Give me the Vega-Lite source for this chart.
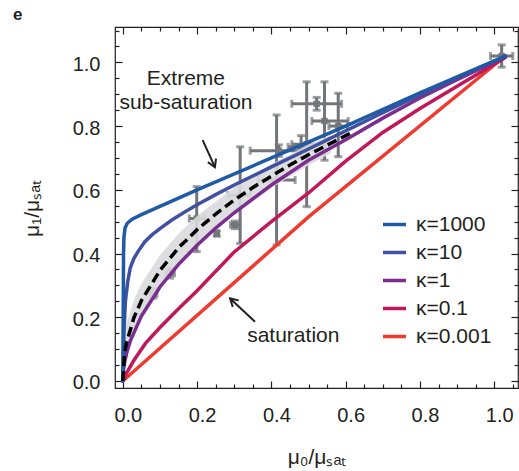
{
  "$schema": "https://vega.github.io/schema/vega-lite/v6.json",
  "width": 403,
  "height": 361,
  "autosize": {"type": "none"},
  "padding": {"left": 115, "top": 27, "right": 1, "bottom": 83},
  "background": "white",
  "config": {
    "view": {"stroke": "#231f20", "strokeWidth": 1.2},
    "font": "Liberation Sans",
    "axis": {"grid": false, "domain": false, "tickColor": "#231f20", "tickWidth": 1.2, "labelFont": "Liberation Sans", "labelColor": "#231f20", "titleFont": "Liberation Sans", "titleColor": "#231f20", "titleFontWeight": "normal"}
  },
  "title": {"text": "e", "anchor": "start", "frame": "group", "fontSize": 17, "fontWeight": "bold", "dx": -102, "dy": 16, "offset": 5, "baseline": "alphabetic", "color": "#231f20", "font": "Liberation Sans"},
  "datasets": {
    "pts": [
      {"x": 0.082, "y": 0.275, "xlo": 0.072, "xhi": 0.092, "ylo": 0.26, "yhi": 0.29},
      {"x": 0.127, "y": 0.338, "xlo": 0.115, "xhi": 0.139, "ylo": 0.323, "yhi": 0.353},
      {"x": 0.199, "y": 0.51, "xlo": 0.179, "xhi": 0.221, "ylo": 0.406, "yhi": 0.61},
      {"x": 0.253, "y": 0.463, "xlo": 0.248, "xhi": 0.258, "ylo": 0.455, "yhi": 0.471},
      {"x": 0.302, "y": 0.49, "xlo": 0.29, "xhi": 0.315, "ylo": 0.478, "yhi": 0.502},
      {"x": 0.316, "y": 0.583, "xlo": 0.283, "xhi": 0.343, "ylo": 0.432, "yhi": 0.735},
      {"x": 0.414, "y": 0.631, "xlo": 0.364, "xhi": 0.464, "ylo": 0.427, "yhi": 0.835},
      {"x": 0.42, "y": 0.723, "xlo": 0.343, "xhi": 0.495, "ylo": 0.705, "yhi": 0.741},
      {"x": 0.48, "y": 0.735, "xlo": 0.445, "xhi": 0.513, "ylo": 0.7, "yhi": 0.77},
      {"x": 0.495, "y": 0.743, "xlo": 0.455, "xhi": 0.54, "ylo": 0.547, "yhi": 0.939},
      {"x": 0.543, "y": 0.816, "xlo": 0.509, "xhi": 0.607, "ylo": 0.693, "yhi": 0.939},
      {"x": 0.58, "y": 0.8, "xlo": 0.555, "xhi": 0.605, "ylo": 0.704, "yhi": 0.903},
      {"x": 0.522, "y": 0.87, "xlo": 0.455, "xhi": 0.589, "ylo": 0.85, "yhi": 0.89},
      {"x": 1.02, "y": 1.02, "xlo": 0.99, "xhi": 1.05, "ylo": 0.985, "yhi": 1.055}
    ],
    "band": [
      {"x": 0, "lo": 0, "hi": 0},
      {"x": 0.005, "lo": 0.04, "hi": 0.15},
      {"x": 0.01, "lo": 0.07, "hi": 0.18},
      {"x": 0.03, "lo": 0.15, "hi": 0.255},
      {"x": 0.05, "lo": 0.205, "hi": 0.305},
      {"x": 0.1, "lo": 0.3, "hi": 0.395},
      {"x": 0.15, "lo": 0.372, "hi": 0.462},
      {"x": 0.2, "lo": 0.43, "hi": 0.518},
      {"x": 0.3, "lo": 0.527, "hi": 0.608},
      {"x": 0.4, "lo": 0.606, "hi": 0.68},
      {"x": 0.5, "lo": 0.677, "hi": 0.742},
      {"x": 0.56, "lo": 0.715, "hi": 0.772}
    ],
    "dashed": [
      {"x": 0, "y": 0}, {"x": 0.005, "y": 0.09}, {"x": 0.01, "y": 0.12}, {"x": 0.03, "y": 0.199},
      {"x": 0.05, "y": 0.252}, {"x": 0.1, "y": 0.347}, {"x": 0.15, "y": 0.418}, {"x": 0.2, "y": 0.475},
      {"x": 0.25, "y": 0.524}, {"x": 0.3, "y": 0.568}, {"x": 0.35, "y": 0.607}, {"x": 0.4, "y": 0.643},
      {"x": 0.45, "y": 0.678}, {"x": 0.5, "y": 0.71}, {"x": 0.55, "y": 0.74}, {"x": 0.6, "y": 0.77}, {"x": 0.62, "y": 0.782}
    ],
    "curves": [
      {"k": "κ=0.001", "x": 0, "y": 0}, {"k": "κ=0.001", "x": 0.5, "y": 0.515}, {"k": "κ=0.001", "x": 1.03, "y": 1.02},
      {"k": "κ=0.1", "x": 0, "y": 0}, {"k": "κ=0.1", "x": 0.01, "y": 0.025}, {"k": "κ=0.1", "x": 0.03, "y": 0.065},
      {"k": "κ=0.1", "x": 0.061, "y": 0.118}, {"k": "κ=0.1", "x": 0.1, "y": 0.168}, {"k": "κ=0.1", "x": 0.15, "y": 0.227},
      {"k": "κ=0.1", "x": 0.2, "y": 0.283}, {"k": "κ=0.1", "x": 0.3, "y": 0.405}, {"k": "κ=0.1", "x": 0.4, "y": 0.5},
      {"k": "κ=0.1", "x": 0.5, "y": 0.59}, {"k": "κ=0.1", "x": 0.6, "y": 0.69}, {"k": "κ=0.1", "x": 0.7, "y": 0.78},
      {"k": "κ=0.1", "x": 0.8, "y": 0.855}, {"k": "κ=0.1", "x": 0.9, "y": 0.925}, {"k": "κ=0.1", "x": 1.03, "y": 1.015},
      {"k": "κ=1", "x": 0, "y": 0}, {"k": "κ=1", "x": 0.002, "y": 0.037}, {"k": "κ=1", "x": 0.005, "y": 0.06},
      {"k": "κ=1", "x": 0.012, "y": 0.095}, {"k": "κ=1", "x": 0.02, "y": 0.125}, {"k": "κ=1", "x": 0.05, "y": 0.204},
      {"k": "κ=1", "x": 0.1, "y": 0.295}, {"k": "κ=1", "x": 0.15, "y": 0.366}, {"k": "κ=1", "x": 0.2, "y": 0.426},
      {"k": "κ=1", "x": 0.25, "y": 0.48}, {"k": "κ=1", "x": 0.3, "y": 0.528}, {"k": "κ=1", "x": 0.4, "y": 0.615},
      {"k": "κ=1", "x": 0.5, "y": 0.693}, {"k": "κ=1", "x": 0.6, "y": 0.757}, {"k": "κ=1", "x": 0.7, "y": 0.825},
      {"k": "κ=1", "x": 0.8, "y": 0.888}, {"k": "κ=1", "x": 0.9, "y": 0.946}, {"k": "κ=1", "x": 1.03, "y": 1.018},
      {"k": "κ=10", "x": 0, "y": 0}, {"k": "κ=10", "x": 0.001, "y": 0.05}, {"k": "κ=10", "x": 0.003, "y": 0.15},
      {"k": "κ=10", "x": 0.007, "y": 0.25}, {"k": "κ=10", "x": 0.013, "y": 0.31}, {"k": "κ=10", "x": 0.02, "y": 0.355},
      {"k": "κ=10", "x": 0.03, "y": 0.385}, {"k": "κ=10", "x": 0.043, "y": 0.41}, {"k": "κ=10", "x": 0.06, "y": 0.438},
      {"k": "κ=10", "x": 0.08, "y": 0.46}, {"k": "κ=10", "x": 0.1, "y": 0.478}, {"k": "κ=10", "x": 0.133, "y": 0.506},
      {"k": "κ=10", "x": 0.17, "y": 0.533}, {"k": "κ=10", "x": 0.2, "y": 0.553}, {"k": "κ=10", "x": 0.25, "y": 0.585},
      {"k": "κ=10", "x": 0.3, "y": 0.615}, {"k": "κ=10", "x": 0.4, "y": 0.672}, {"k": "κ=10", "x": 0.5, "y": 0.728},
      {"k": "κ=10", "x": 0.6, "y": 0.785}, {"k": "κ=10", "x": 0.7, "y": 0.842}, {"k": "κ=10", "x": 0.8, "y": 0.898},
      {"k": "κ=10", "x": 0.9, "y": 0.952}, {"k": "κ=10", "x": 1.03, "y": 1.019},
      {"k": "κ=1000", "x": 0, "y": 0}, {"k": "κ=1000", "x": 0.001, "y": 0.2}, {"k": "κ=1000", "x": 0.002, "y": 0.4},
      {"k": "κ=1000", "x": 0.003, "y": 0.45}, {"k": "κ=1000", "x": 0.006, "y": 0.48}, {"k": "κ=1000", "x": 0.012, "y": 0.495},
      {"k": "κ=1000", "x": 0.025, "y": 0.508}, {"k": "κ=1000", "x": 0.05, "y": 0.522}, {"k": "κ=1000", "x": 0.1, "y": 0.548},
      {"k": "κ=1000", "x": 0.2, "y": 0.6}, {"k": "κ=1000", "x": 0.4, "y": 0.7}, {"k": "κ=1000", "x": 0.6, "y": 0.8},
      {"k": "κ=1000", "x": 0.8, "y": 0.904}, {"k": "κ=1000", "x": 1.03, "y": 1.02}
    ],
    "arrows": [
      {"a": "a1", "o": 0, "x": 0.215, "y": 0.756}, {"a": "a1", "o": 1, "x": 0.248, "y": 0.671},
      {"a": "h1", "o": 0, "x": 0.251, "y": 0.698}, {"a": "h1", "o": 1, "x": 0.248, "y": 0.671}, {"a": "h1", "o": 2, "x": 0.229, "y": 0.687},
      {"a": "a2", "o": 0, "x": 0.356, "y": 0.186}, {"a": "a2", "o": 1, "x": 0.289, "y": 0.259},
      {"a": "h2", "o": 0, "x": 0.296, "y": 0.2325}, {"a": "h2", "o": 1, "x": 0.289, "y": 0.259}, {"a": "h2", "o": 2, "x": 0.312, "y": 0.253}
    ],
    "notes": [
      {"t": "Extreme", "x": 0.17, "y": 0.929},
      {"t": "sub-saturation", "x": 0.17, "y": 0.855},
      {"t": "saturation", "x": 0.459, "y": 0.123}
    ]
  },
  "resolve": {"axis": {"x": "independent", "y": "independent"}},
  "layer": [
    {
      "data": {"name": "pts"},
      "mark": {"type": "rule", "color": "#727579", "strokeWidth": 3},
      "encoding": {
        "x": {"field": "x", "type": "quantitative", "scale": {"domain": [-0.021, 1.064], "nice": false, "zero": false},
          "axis": {"orient": "bottom", "values": [0, 0.2, 0.4, 0.6, 0.8, 1.0], "format": ".1f", "tickSize": -7, "labelPadding": 24, "labelFontSize": 20, "labelOffset": 5, "title": "μ₀/μₛₐₜ", "titleFontSize": 21, "titlePadding": 21}},
        "y": {"field": "ylo", "type": "quantitative", "scale": {"domain": [-0.022, 1.111], "nice": false, "zero": false},
          "axis": {"orient": "left", "values": [0, 0.2, 0.4, 0.6, 0.8, 1.0], "format": ".1f", "tickSize": -7, "labelPadding": 22, "labelFontSize": 20, "labelOffset": 2, "title": "μ₁/μₛₐₜ", "titleFontSize": 21, "titleX": -83, "titleY": 181, "titleAngle": -90, "titleAlign": "center", "titleBaseline": "middle"}},
        "y2": {"field": "yhi"}
      }
    },
    {
      "data": {"name": "pts"},
      "mark": {"type": "rule", "color": "#727579", "strokeWidth": 3},
      "encoding": {
        "x": {"field": "xlo", "type": "quantitative", "scale": {"domain": [-0.021, 1.064], "nice": false, "zero": false},
          "axis": {"orient": "bottom", "values": [0.05, 0.1, 0.15, 0.25, 0.3, 0.35, 0.45, 0.5, 0.55, 0.65, 0.7, 0.75, 0.85, 0.9, 0.95, 1.05], "tickSize": -4, "labels": false, "title": null}},
        "x2": {"field": "xhi"},
        "y": {"field": "y", "type": "quantitative", "scale": {"domain": [-0.022, 1.111], "nice": false, "zero": false},
          "axis": {"orient": "left", "values": [0.05, 0.1, 0.15, 0.25, 0.3, 0.35, 0.45, 0.5, 0.55, 0.65, 0.7, 0.75, 0.85, 0.9, 0.95, 1.05, 1.1], "tickSize": -4, "labels": false, "title": null}}
      }
    },
    {
      "data": {"name": "pts"},
      "mark": {"type": "tick", "orient": "horizontal", "color": "#727579", "size": 8, "thickness": 3},
      "encoding": {
        "x": {"field": "x", "type": "quantitative", "scale": {"domain": [-0.021, 1.064], "nice": false, "zero": false},
          "axis": {"orient": "top", "values": [0, 0.2, 0.4, 0.6, 0.8, 1.0], "tickSize": -7, "labels": false, "title": null}},
        "y": {"field": "ylo", "type": "quantitative", "scale": {"domain": [-0.022, 1.111], "nice": false, "zero": false},
          "axis": {"orient": "right", "values": [0, 0.2, 0.4, 0.6, 0.8, 1.0], "tickSize": -7, "labels": false, "title": null}}
      }
    },
    {
      "data": {"name": "pts"},
      "mark": {"type": "tick", "orient": "horizontal", "color": "#727579", "size": 8, "thickness": 3},
      "encoding": {
        "x": {"field": "x", "type": "quantitative", "scale": {"domain": [-0.021, 1.064], "nice": false, "zero": false},
          "axis": {"orient": "top", "values": [0.05, 0.1, 0.15, 0.25, 0.3, 0.35, 0.45, 0.5, 0.55, 0.65, 0.7, 0.75, 0.85, 0.9, 0.95, 1.05], "tickSize": -4, "labels": false, "title": null}},
        "y": {"field": "yhi", "type": "quantitative", "scale": {"domain": [-0.022, 1.111], "nice": false, "zero": false},
          "axis": {"orient": "right", "values": [0.05, 0.1, 0.15, 0.25, 0.3, 0.35, 0.45, 0.5, 0.55, 0.65, 0.7, 0.75, 0.85, 0.9, 0.95, 1.05, 1.1], "tickSize": -4, "labels": false, "title": null}}
      }
    },
    {
      "data": {"name": "pts"},
      "mark": {"type": "tick", "orient": "vertical", "color": "#727579", "size": 8, "thickness": 3},
      "encoding": {
        "x": {"field": "xlo", "type": "quantitative", "scale": {"domain": [-0.021, 1.064], "nice": false, "zero": false}, "axis": null},
        "y": {"field": "y", "type": "quantitative", "scale": {"domain": [-0.022, 1.111], "nice": false, "zero": false}, "axis": null}
      }
    },
    {
      "data": {"name": "pts"},
      "mark": {"type": "tick", "orient": "vertical", "color": "#727579", "size": 8, "thickness": 3},
      "encoding": {
        "x": {"field": "xhi", "type": "quantitative", "scale": {"domain": [-0.021, 1.064], "nice": false, "zero": false}, "axis": null},
        "y": {"field": "y", "type": "quantitative", "scale": {"domain": [-0.022, 1.111], "nice": false, "zero": false}, "axis": null}
      }
    },
    {
      "data": {"name": "pts"},
      "mark": {"type": "square", "color": "#727579", "size": 40, "opacity": 1},
      "encoding": {
        "x": {"field": "x", "type": "quantitative", "scale": {"domain": [-0.021, 1.064], "nice": false, "zero": false}, "axis": null},
        "y": {"field": "y", "type": "quantitative", "scale": {"domain": [-0.022, 1.111], "nice": false, "zero": false}, "axis": null}
      }
    },
    {
      "data": {"name": "band"},
      "mark": {"type": "area", "color": "#d9dadb", "opacity": 0.9},
      "encoding": {
        "x": {"field": "x", "type": "quantitative", "scale": {"domain": [-0.021, 1.064], "nice": false, "zero": false}, "axis": null},
        "y": {"field": "lo", "type": "quantitative", "scale": {"domain": [-0.022, 1.111], "nice": false, "zero": false}, "axis": null},
        "y2": {"field": "hi"}
      }
    },
    {
      "data": {"name": "curves"},
      "mark": {"type": "line", "strokeWidth": 3.5, "strokeCap": "round"},
      "encoding": {
        "x": {"field": "x", "type": "quantitative", "scale": {"domain": [-0.021, 1.064], "nice": false, "zero": false}, "axis": null},
        "y": {"field": "y", "type": "quantitative", "scale": {"domain": [-0.022, 1.111], "nice": false, "zero": false}, "axis": null},
        "color": {"field": "k", "type": "nominal",
          "scale": {"domain": ["κ=1000", "κ=10", "κ=1", "κ=0.1", "κ=0.001"], "range": ["#1f5aa6", "#4150a0", "#7b2e8f", "#c0185a", "#ee3a2f"]},
          "legend": {"orient": "none", "legendX": 266, "legendY": 184, "title": null, "padding": 0, "symbolType": "stroke", "symbolStrokeWidth": 3.5, "symbolSize": 529, "labelFontSize": 21, "labelFont": "Liberation Sans", "labelColor": "#231f20", "rowPadding": 4, "labelOffset": 8}}
      }
    },
    {
      "data": {"name": "dashed"},
      "mark": {"type": "line", "color": "#000000", "strokeWidth": 3.5, "strokeDash": [10, 5]},
      "encoding": {
        "x": {"field": "x", "type": "quantitative", "scale": {"domain": [-0.021, 1.064], "nice": false, "zero": false}, "axis": null},
        "y": {"field": "y", "type": "quantitative", "scale": {"domain": [-0.022, 1.111], "nice": false, "zero": false}, "axis": null}
      }
    },
    {
      "data": {"name": "arrows"},
      "mark": {"type": "line", "color": "#231f20", "strokeWidth": 2},
      "encoding": {
        "x": {"field": "x", "type": "quantitative", "scale": {"domain": [-0.021, 1.064], "nice": false, "zero": false}, "axis": null},
        "y": {"field": "y", "type": "quantitative", "scale": {"domain": [-0.022, 1.111], "nice": false, "zero": false}, "axis": null},
        "detail": {"field": "a", "type": "nominal"},
        "order": {"field": "o", "type": "quantitative"}
      }
    },
    {
      "data": {"name": "notes"},
      "mark": {"type": "text", "align": "center", "baseline": "alphabetic", "fontSize": 21, "font": "Liberation Sans", "color": "#231f20"},
      "encoding": {
        "x": {"field": "x", "type": "quantitative", "scale": {"domain": [-0.021, 1.064], "nice": false, "zero": false}, "axis": null},
        "y": {"field": "y", "type": "quantitative", "scale": {"domain": [-0.022, 1.111], "nice": false, "zero": false}, "axis": null},
        "text": {"field": "t", "type": "nominal"}
      }
    }
  ]
}
